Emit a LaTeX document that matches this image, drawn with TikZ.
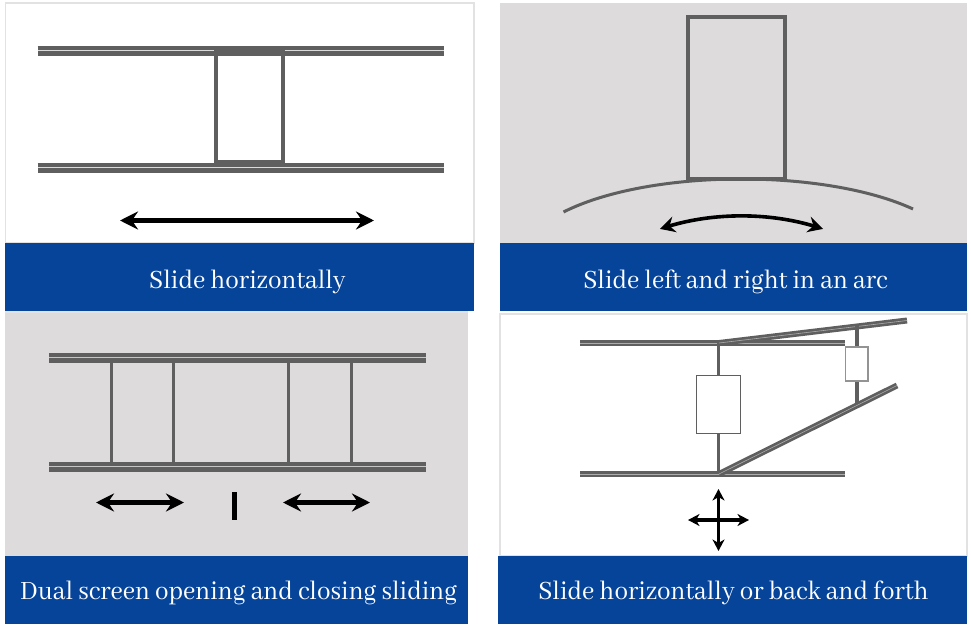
\documentclass[tikz,border=0pt]{standalone}
\usepackage{fontspec}
\setmainfont[FakeStretch=0.93]{Abhaya Libre}
\usetikzlibrary{arrows.meta,bending}
\definecolor{band}{HTML}{064499}
\definecolor{panelgray}{HTML}{DDDBDC}
\definecolor{steel}{HTML}{5F5F5F}
\definecolor{edge}{HTML}{E2E2E2}
\tikzset{
  x=1pt,y=-1pt,
  blueband/.style={fill=band,draw=none},
  caption/.style={text=white,font=\fontsize{29}{32}\selectfont,inner sep=0pt,anchor=base},
  rail/.style={draw=steel,line width=10pt,line cap=butt,postaction={draw=#1,line width=1pt}},
  rail/.default=gray!28,
  thinrail/.style={draw=steel,line width=6pt,line cap=butt,postaction={draw=#1,line width=.6pt}},
  thinrail/.default=gray!65,
  post/.style={draw=steel,line width=#1},
  post/.default=3.5pt,
  tworow/.style={draw=black,line width=#1,{Stealth[length=18pt,width=18pt,inset=6pt]}-{Stealth[length=18pt,width=18pt,inset=6pt]}},
  tworow/.default=5pt,
  smallrow/.style={draw=black,line width=3.4pt,{Stealth[length=11.5pt,width=12pt,inset=3.5pt]}-{Stealth[length=11.5pt,width=12pt,inset=3.5pt]}},
}
\begin{document}
\begin{tikzpicture}
\useasboundingbox (0,0) rectangle (971,628);
\fill[white] (0,0) rectangle (971,628);
% panel 1
\fill[edge] (5,311) rectangle (468,320);
\draw[edge,line width=1.5pt,fill=white] (5.5,3) rectangle (474,243);
\fill[blueband] (5,243) rectangle (474,311);
\draw[rail] (37.5,51) -- (443.5,51);
\draw[rail] (37.5,168) -- (443.5,168);
\fill[steel] (216,48) rectangle (283.5,54);
\fill[steel] (216,160.5) rectangle (283.5,166);
\draw[post] (216,50) -- (216,164);
\draw[post] (283,50) -- (283,164);
\draw[tworow] (120,220.5) -- (374,220.5);
\node[caption] (cap1) at (247.5,288) {Slide horizontally};
% panel 2
\fill[panelgray] (500,3) rectangle (967,243);
\fill[blueband] (500,243) rectangle (967,311);
\draw[post=4pt] (687.5,179) -- (687.5,17.5) -- (784.5,17.5) -- (784.5,179) -- cycle;
\draw[post=3pt] (563.5,212) .. controls (650,168.5) and (825,168.5) .. (913,209);
\draw[draw=black,line width=3.6pt,{Stealth[length=15pt,width=16pt,inset=5pt,bend]}-{Stealth[length=15pt,width=16pt,inset=5pt,bend]}] (660,229) .. controls (710,211.5) and (773,211.5) .. (823,229);
\node[caption] (cap2) at (735.5,288) {Slide left and right in an arc};
% panel 3
\fill[panelgray] (5,313) rectangle (468,556);
\fill[blueband] (5,556) rectangle (468,624);
\draw[rail=gray!45] (49,357.5) -- (426,357.5);
\draw[rail=gray!45] (49,466.5) -- (426,466.5);
\foreach \n/\px in {a/111.5,b/173.5,c/288.5,d/351.5}{
  \draw[post=3pt] (\px,358) -- (\px,464);
}
\draw[tworow=4.4pt] (96,502.5) -- (184,502.5);
\draw[tworow=4.4pt] (283,502.5) -- (370,502.5);
\fill[black] (232,491.5) rectangle (236.8,520);
\node[caption] (cap3) at (238.5,599) {Dual screen opening and closing sliding};
% panel 4
\draw[edge,line width=1.5pt,fill=white] (500,314) rectangle (967,556);
\fill[blueband] (498,556) rectangle (967,624);
\draw[thinrail] (580,342.8) -- (845,342.8);
\draw[thinrail] (580,473.8) -- (845,473.8);
\draw[post=3.4pt] (718.5,343) -- (718.5,474);
\draw[thinrail] (719,343) -- (907,320.5);
\draw[thinrail] (719,474) -- (897,385.5);
\draw[post=3.4pt] (857,325) -- (857,404);
\draw[draw=steel,line width=1.8pt,fill=white] (696.5,375.5) rectangle (740.5,433.5);
\draw[draw=gray!85,line width=1.4pt,fill=white] (845.5,347) rectangle (868,381);
\draw[smallrow] (688,520) -- (749,520);
\draw[smallrow] (718.5,489) -- (718.5,551);
\node[caption] (cap4) at (733.5,599) {Slide horizontally or back and forth};
\end{tikzpicture}
\end{document}
